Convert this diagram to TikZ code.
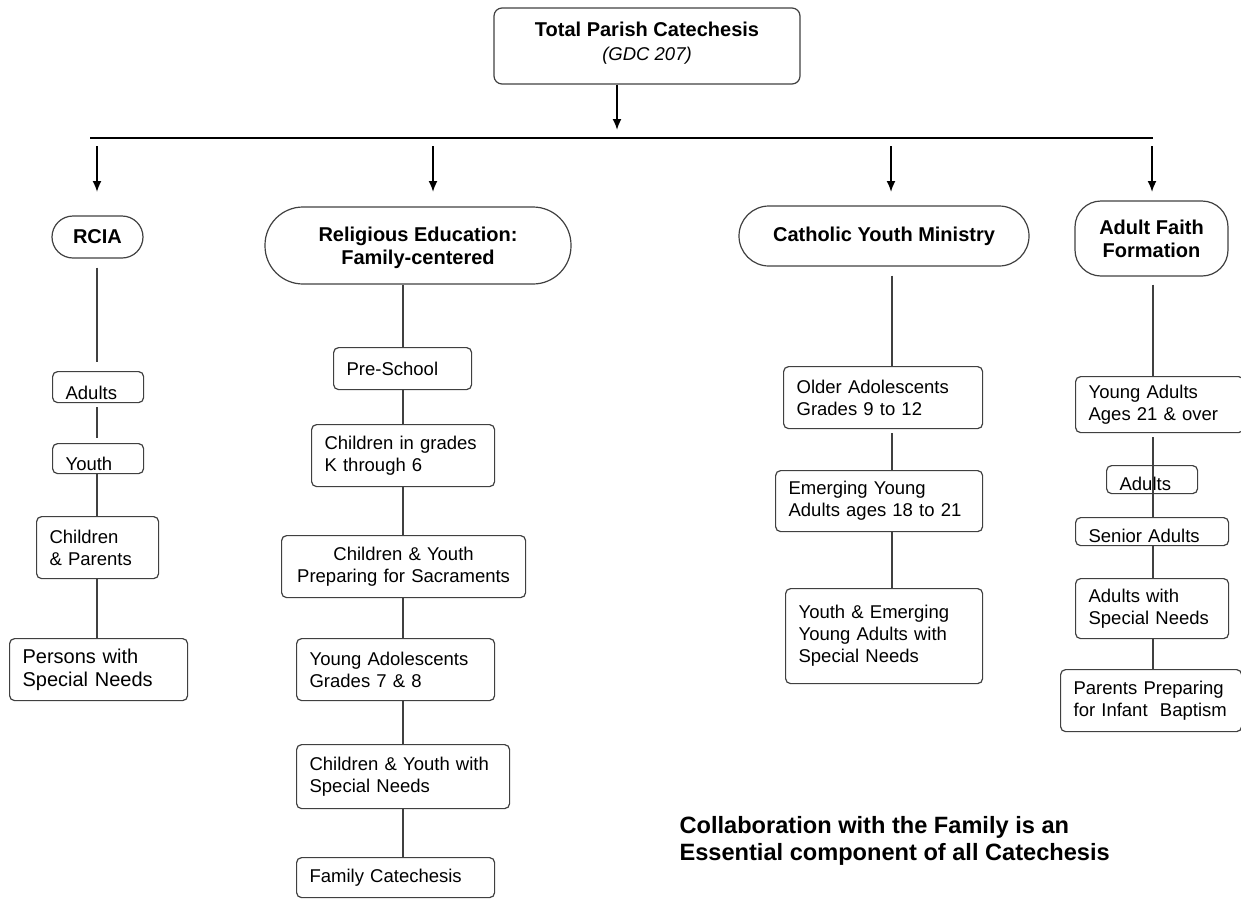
\documentclass[tikz,border=0pt]{standalone}
\usepackage{fontspec}
\setmainfont{Liberation Sans}
\usetikzlibrary{arrows.meta}
\newcommand{\ftxt}{\fontsize{18.5}{22}\selectfont}
\newcommand{\fhead}{\fontsize{20}{23}\selectfont\bfseries}
\newcommand{\fnote}{\fontsize{23.6}{27}\selectfont\bfseries}
\begin{document}
\begin{tikzpicture}[x=1pt,y=-1pt,line width=1.2pt,
		box/.style={draw=black!75,rounded corners=5,anchor=north west,inner xsep=13pt,inner ysep=0pt,align=left,font=\ftxt,text width=#1},
		mid/.style={box=#1,align=center},
		low/.style={text height=#1,text depth=3pt},
		head/.style={draw=black!75,rounded corners=#1,inner sep=0pt,align=center,font=\fhead},
		arr/.style={line width=1.8pt,-{Latex[length=11pt,width=9pt]}},
		link/.style={draw=black!75}]
			\useasboundingbox (0,0) rectangle (1241,898);
			\coordinate (tp) at (617,130);
			\coordinate (bl) at (90,138);
			\coordinate (br) at (1153,138);
			\coordinate (cA) at (97,0);
			\coordinate (cB) at (403,0);
			\coordinate (cC) at (892,0);
			\coordinate (cD) at (1153,0);
			\foreach \x [count=\i] in {97,433,891,1152}
				\coordinate (d\i) at (\x,146);
			% top
			\node[head=8,minimum width=306pt,minimum height=76pt,text depth=10pt,font=\fontsize{18.5}{24}\selectfont] (tpc) at (647,46) {{\bfseries\fontsize{20}{24}\selectfont Total Parish Catechesis}\\\textit{(GDC 207)}};
			\draw[arr] (tpc.south -| tp) -- (tp);
			\draw[line width=2pt] (bl) -- (br);
			\foreach \i in {1,...,4}
				\draw[arr] (d\i) -- ++(0,46);
			% heads
			\node[head=21,minimum width=91pt,minimum height=42pt] (rcia) at (97.5,237) {RCIA};
			\node[head=38,minimum width=306pt,minimum height=77pt,text depth=-8pt] (relig) at (418,245.5) {Religious Education:\\Family-centered};
			\node[head=30,minimum width=290pt,minimum height=60pt] (cym) at (884,236) {Catholic Youth Ministry};
			\node[head=26,minimum width=153pt,minimum height=75pt,text depth=-3pt] (aff) at (1151.5,238.5) {Adult Faith\\Formation};
			% RCIA
			\node[box=65pt,minimum height=31pt,low=28pt] (rad) at (52,371) {Adults};
			\node[box=65pt,minimum height=30pt,low=27pt] (ryo) at (52,443) {Youth};
			\node[box=96pt,minimum height=62pt] (rch) at (36,516) {Children\\\& Parents};
			\node[box=152pt,minimum height=62pt,font=\fontsize{20}{23}\selectfont] (rpe) at (9,638) {Persons with\\Special Needs};
			% religious education
			\node[box=112pt,minimum height=42pt] (pre) at (333,347) {Pre-School};
			\node[box=157pt,minimum height=62pt] (gr) at (311,424) {Children in grades\\K through 6};
			\node[mid=218pt,minimum height=62pt] (sac) at (281,535) {Children \& Youth\\Preparing for Sacraments};
			\node[box=172pt,minimum height=62pt] (ya) at (296,638) {Young Adolescents\\Grades 7 \& 8};
			\node[box=187pt,minimum height=64pt] (sn) at (296,744) {Children \& Youth with\\Special Needs};
			\node[box=172pt,minimum height=40pt] (fam) at (296,857) {Family Catechesis};
			% youth ministry
			\node[box=173pt,minimum height=62pt] (old) at (783,366) {Older Adolescents\\Grades 9 to 12};
			\node[box=181pt,minimum height=61pt] (emy) at (775,470) {Emerging Young\\Adults ages 18 to 21};
			\node[box=171pt,minimum height=95pt] (yem) at (785,588) {Youth \& Emerging\\Young Adults with\\Special Needs};
			% adult faith formation
			\node[box=142pt,minimum height=56pt] (yad) at (1075,376) {Young Adults\\Ages 21 \& over};
			\node[box=65pt,minimum height=28pt,low=25pt] (aad) at (1106,465) {Adults};
			\node[box=127pt,minimum height=28pt,low=25pt] (sen) at (1075,517) {Senior Adults};
			\node[box=127pt,minimum height=60pt] (asn) at (1075,578) {Adults with\\Special Needs};
			\node[box=155pt,minimum height=62pt] (ppb) at (1060,669) {Parents Preparing\\for Infant\ \ Baptism};
			% links
			\draw[link,shorten <=9pt,shorten >=9pt] (rcia.south -| cA) -- (rad.north -| cA);
			\draw[link,shorten <=4pt,shorten >=5pt] (rad.south -| cA) -- (ryo.north -| cA);
			\draw[link] (ryo.south -| cA) -- (rch.north -| cA);
			\draw[link] (rch.south -| cA) -- (rpe.north -| cA);
			\draw[link] (relig.south -| cB) -- (pre.north -| cB);
			\draw[link] (pre.south -| cB) -- (gr.north -| cB);
			\draw[link] (gr.south -| cB) -- (sac.north -| cB);
			\draw[link] (sac.south -| cB) -- (ya.north -| cB);
			\draw[link] (ya.south -| cB) -- (sn.north -| cB);
			\draw[link] (sn.south -| cB) -- (fam.north -| cB);
			\draw[link,shorten <=9pt] (cym.south -| cC) -- (old.north -| cC);
			\draw[link,shorten <=4pt] (old.south -| cC) -- (emy.north -| cC);
			\draw[link] (emy.south -| cC) -- (yem.north -| cC);
			\draw[link,shorten <=8pt] (aff.south -| cD) -- (yad.north -| cD);
			\draw[link,shorten <=4pt] (yad.south -| cD) -- (sen.north -| cD);
			\draw[link] (sen.south -| cD) -- (asn.north -| cD);
			\draw[link] (asn.south -| cD) -- (ppb.north -| cD);
			% note
			\node[anchor=north west,align=left,font=\fnote,inner sep=0pt] (note) at (679,816) {Collaboration with the Family is an\\Essential component of all Catechesis};
		\end{tikzpicture}
\end{document}
